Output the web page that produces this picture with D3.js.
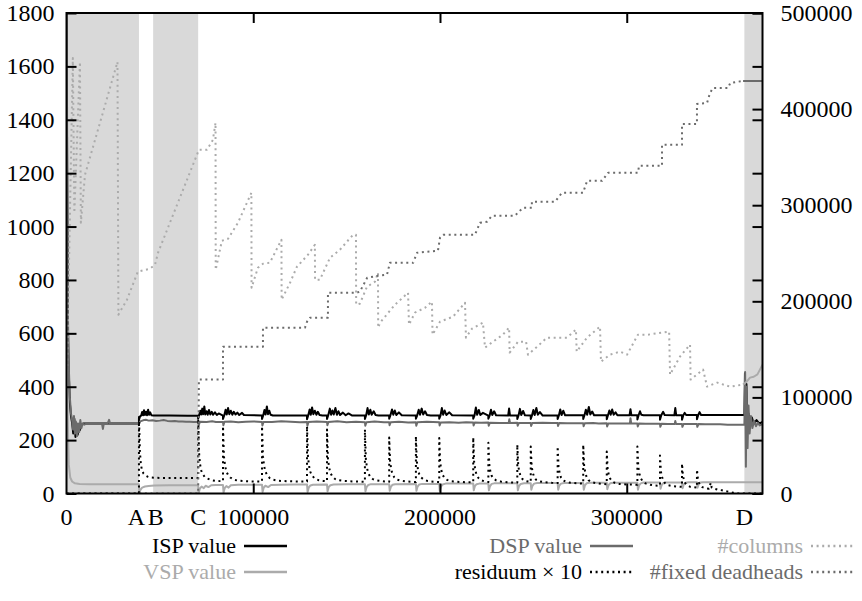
<!DOCTYPE html>
<html><head><meta charset="utf-8">
<script src="https://cdn.jsdelivr.net/npm/d3@7"></script>
</head><body style="margin:0">
<svg id="c" width="862" height="601"></svg>
<script>
// ---------- data ----------
const xMax = 372700;
const xTickValues = [0, 100000, 200000, 300000];
const letterLabels = ["A", "B", "C", "D"];
const letterValues = [38800, 46400, 70500, 363000];
const shadedSpans = [[0, 38800], [46400, 70500], [363000, 372700]];
const y1Ticks = [0, 200, 400, 600, 800, 1000, 1200, 1400, 1600, 1800];
const y2Ticks = [0, 100000, 200000, 300000, 400000, 500000];
const seriesNames = ["ISP value", "VSP value", "DSP value", "residuum × 10", "#columns", "#fixed deadheads"];

const isp = [[0,2400],[300,1300],[700,650],[1200,450],[1800,340],[2400,290],[3000,265],[3600,225],[4200,280],[4800,212],[5400,262],[6000,220],[6600,255],[7200,238],[8000,258],[9000,262],[20000,262],[38800,262],
[38800,275],[39300,288],[40000,292],[40500,305],[41000,293],[41500,312],[42000,294],[42600,306],[43100,293],[43700,314],[44200,295],[44800,304],[45500,293],[46500,292],[55000,292],[65000,291],[70500,291],
[70500,280],[71000,292],[71600,310],[72100,296],[72700,318],[73200,297],[73800,326],[74300,296],[75000,308],[75600,295],[76300,313],[77000,296],[77800,306],[78500,295],[79500,304],[80500,294],[81500,300],[83800,292],
[83800,279],[84500,293],[85200,314],[85800,296],[86500,320],[87200,297],[88000,310],[88800,295],[89600,306],[90500,296],[91500,303],[92500,294],[94000,302],[95000,294],[104700,292],
[104700,279],[105400,294],[106000,313],[106600,296],[107300,326],[107900,297],[108600,310],[109300,295],[110500,292],[128800,292],
[128800,278],[129500,294],[130200,315],[130800,295],[131500,322],[132200,297],[133000,310],[133800,295],[134600,306],[135500,294],[137000,292],[139500,292],
[139500,279],[140200,294],[141000,318],[141700,295],[142400,311],[143100,296],[144000,320],[144800,295],[145600,308],[146500,294],[148000,303],[149500,293],[151000,300],[153000,292],[159800,292],
[159800,279],[160500,294],[161200,320],[161900,296],[162700,314],[163400,295],[164500,308],[165500,294],[167000,292],[172800,292],
[172800,280],[173500,294],[174300,315],[175000,295],[175800,311],[176600,294],[178000,304],[179500,293],[187100,292],
[187100,280],[187800,293],[188600,314],[189300,295],[190200,318],[191000,296],[192000,308],[193000,294],[195000,292],[199600,292],
[199600,280],[200300,293],[201000,320],[201700,295],[202500,311],[203400,294],[205000,304],[206500,293],[217800,292],
[217800,280],[218500,293],[219200,322],[219900,295],[220800,313],[221600,294],[223000,302],[225900,292],
[225900,280],[226600,293],[227300,314],[228000,294],[229000,308],[230000,293],[236500,292],[237000,318],[237500,292],[241400,292],
[241400,279],[242100,293],[242800,317],[243500,294],[244500,309],[245500,293],[248600,292],
[248600,279],[249300,293],[250000,313],[250700,294],[251600,320],[252400,295],[253500,305],[255000,292],[263000,292],
[263000,279],[263700,293],[264400,315],[265100,294],[266000,310],[267000,293],[276700,293],
[276700,279],[277400,294],[278100,314],[278800,295],[279700,324],[280500,296],[281500,307],[282500,293],[289300,293],
[289300,278],[290000,294],[290700,311],[291400,295],[292200,315],[293000,295],[294000,304],[295000,293],[301500,293],[302000,316],[302500,293],[305700,293],
[305700,277],[306400,294],[307100,308],[307800,295],[309000,293],[317800,293],
[317800,276],[318500,293],[319500,306],[320300,294],[325500,293],[326000,320],[326500,293],[329600,293],
[329600,276],[330300,293],[331000,302],[331800,294],[337600,294],
[337600,278],[338300,294],[339000,305],[339800,294],[350000,294],[363000,294],[363300,450],[363700,265],[364100,410],[364600,240],[365200,300],[366000,262],[367000,285],[368000,262],[369500,275],[371000,262],[372700,268]];

const vsp = [[0,2600],[250,1000],[600,300],[1200,110],[2000,60],[3000,45],[4500,38],[7000,36],[12000,35],[20000,35],[30000,35],[38800,35],[39000,0],[39600,14],[40500,22],[42000,26],[44000,28],[47000,30],[55000,31],[65000,31],[70500,31],
[70800,2],[71400,18],[72300,26],[73500,20],[74500,29],[76000,24],[77500,31],[80000,32],[83800,32],[84100,4],[84700,20],[85600,28],[86800,22],[88000,31],[92000,33],[100000,33],[104700,33],[105000,6],[105600,22],[106500,29],[108000,24],[109500,32],[115000,33],[122000,34],[128800,34],[129100,6],[129700,22],[130600,30],[132000,33],[139500,34],[139800,8],[140400,24],[141300,31],[143000,34],[150000,35],[159800,35],[160100,8],[160700,24],[161600,32],[163000,35],[172800,35],[173100,10],[173700,25],[174600,33],[176000,35],[187100,36],[187400,10],[188000,26],[188900,34],[190500,36],[199600,36],[199900,10],[200500,26],[201400,34],[203000,37],[217800,37],[218100,12],[218700,28],[219600,35],[221000,37],[225900,37],[226200,12],[226800,28],[227700,36],[229000,38],[241400,38],[241700,12],[242300,28],[243200,36],[245000,38],[248600,38],[248900,14],[249500,29],[250400,37],[252000,39],[263000,39],[263300,14],[263900,30],[264800,37],[266500,39],[276700,39],[277000,14],[277600,30],[278500,38],[280000,40],[289300,40],[289600,16],[290200,31],[291100,38],[293000,40],[305700,40],[306000,14],[306600,30],[307500,38],[309000,41],[317800,41],[318100,18],[318700,32],[319600,39],[321000,41],[329600,41],[329900,20],[330500,33],[331400,40],[333000,42],[337600,42],[337900,22],[338500,34],[339400,41],[341000,42],[350000,42],[363000,42],[372700,42]];

const dsp = [[0,2600],[300,1400],[700,700],[1200,480],[1800,360],[2400,300],[3000,275],[3500,240],[4000,290],[4500,225],[5000,270],[5600,215],[6200,262],[6800,230],[7400,275],[8000,245],[8600,262],[9500,258],[11000,263],[14000,262],[17000,263],[19000,262],[19500,242],[20000,263],[22000,262],[22800,276],[23300,262],[27000,263],[31000,262],[35000,263],[38800,262],
[39500,270],[41000,274],[42500,276],[44000,273],[46000,274],[48000,272],[50000,273],[52000,275],[54000,272],[56000,271],[58000,272],[60000,270],[62000,270],[64000,269],[66000,269],[68000,268],[70500,268],[70800,256],[71500,269],
[75000,268],[78000,271],[80000,268],[83800,268],[84000,256],[84600,269],[88000,270],[92000,267],[96000,269],[100000,270],[104700,268],[104900,255],[105500,268],[110000,268],[115000,271],[120000,269],[125000,267],[128800,268],[129000,254],[129600,268],[134000,270],[139500,268],[139700,256],[140300,268],[145000,271],[150000,267],[155000,269],[159800,267],[160000,254],[160600,267],[165000,270],[170000,267],[172800,267],[173000,256],[173600,267],[178000,269],[183000,266],[187100,267],[187300,254],[187900,267],[193000,269],[199600,267],[199800,255],[200400,266],[205000,267],[210000,265],[214000,267],[217800,266],[218000,255],[218600,266],[222000,265],[225900,266],[226100,254],[226700,265],[232000,264],[236800,264],[237100,278],[237500,264],[241400,265],[241600,254],[242200,264],[245000,264],[248600,264],[248800,253],[249400,264],[255000,265],[260000,264],[263000,264],[263200,253],[263800,264],[268000,263],[272000,263],[276700,263],[276900,252],[277500,263],[282000,264],[285000,262],[289300,263],[289500,251],[290100,262],[294000,262],[298000,262],[301700,262],[302000,282],[302400,262],[305700,262],[305900,251],[306500,262],[310000,261],[314000,261],[317800,261],[318000,250],[318600,261],[322000,260],[325700,260],[326000,272],[326400,260],[329600,260],[329800,250],[330400,260],[334000,260],[337600,260],[337800,250],[338400,260],[342000,259],[346000,259],[350000,259],[354000,258],[358000,258],[362000,258],[363000,258],[363400,455],[363800,100],[364200,400],[364700,170],[365200,330],[365800,225],[366500,290],[367300,245],[368200,272],[369200,252],[370200,265],[371200,255],[372700,260]];

const residuum = [[0,0],[38800,0],[38800,292],[39300,160],[39800,110],[40400,88],[41200,75],[42200,68],[43500,63],[45000,60],[47000,59],[52000,58],[58000,58],[64000,58],[70500,58],
[70500,290],[71000,150],[71500,110],[72200,85],[73000,72],[74000,62],[75500,56],[77500,50],[80000,47],[83800,46],
[83800,252],[84300,140],[84900,105],[85600,82],[86500,70],[87700,60],[89500,52],[92000,48],[96000,46],[100000,45],[104700,45],
[104700,252],[105200,140],[105800,104],[106500,82],[107500,68],[108800,58],[110500,52],[113000,48],[118000,46],[124000,45],[128800,45],
[128800,252],[129300,138],[129900,102],[130600,80],[131600,66],[133000,56],[135000,50],[137500,47],[139500,46],
[139500,240],[140000,132],[140600,98],[141300,78],[142300,64],[143700,55],[145500,50],[148500,47],[154000,45],[159800,44],
[159800,240],[160300,130],[160900,96],[161600,76],[162600,63],[164000,54],[166000,49],[169000,46],[172800,44],
[172800,210],[173300,118],[173900,90],[174600,72],[175600,60],[177000,52],[179000,48],[182000,45],[187100,43],
[187100,214],[187600,120],[188200,90],[188900,72],[189900,60],[191300,52],[193300,47],[196500,44],[199600,43],
[199600,208],[200100,116],[200700,88],[201400,70],[202400,58],[203800,51],[205800,46],[209000,44],[214000,42],[217800,42],
[217800,210],[218300,116],[218900,88],[219600,70],[220600,58],[222000,50],[224000,45],[225900,43],
[225900,190],[226400,108],[227000,82],[227700,66],[228700,56],[230100,49],[232500,45],[236000,42],[241400,41],
[241400,183],[241900,104],[242500,80],[243200,64],[244200,54],[245600,47],[248600,43],
[248600,176],[249100,100],[249700,78],[250400,62],[251400,52],[253000,46],[256000,42],[260000,40],[263000,39],
[263000,176],[263500,100],[264100,76],[264800,60],[265800,50],[267400,44],[270000,40],[274000,38],[276700,37],
[276700,183],[277200,102],[277800,78],[278500,62],[279500,50],[281000,43],[283500,39],[287000,36],[289300,35],
[289300,157],[289800,90],[290400,70],[291100,56],[292100,46],[293600,40],[296000,36],[300000,34],[305700,33],
[305700,176],[306200,98],[306800,74],[307500,57],[308500,46],[310000,38],[312500,33],[315000,30],[317800,29],
[317800,142],[318300,82],[318900,62],[319600,48],[320600,38],[322200,31],[325000,27],[329600,25],
[329600,112],[330100,66],[330700,50],[331400,38],[332500,30],[334000,25],[337600,22],
[337600,90],[338100,55],[338700,40],[339400,30],[340500,24],[342000,20],[344000,18],[345000,40],[345500,22],[347000,18],[349000,14],[351000,12],[353000,9],[355000,6],[357000,3],[359000,0],[372700,0]];

const columns = [[0,97700],[3400,453200],[4200,292100],[7200,449100],[7700,281700],[9900,331600],[27300,449100],[27800,186100],[32400,201700],[38200,230800],[44700,233900],[47400,238000],[49000,250500],[70900,357600],[75200,357600],[78400,368000],[79800,385700],[79900,232800],[83200,263000],[86500,265100],[91800,281700],[96600,302500],[99000,312900],[99100,214100],[102500,234900],[105200,239100],[108900,240100],[114300,260900],[115100,264000],[115200,201700],[119700,219300],[123400,236000],[129300,248400],[133000,258800],[133100,222500],[135700,222500],[141100,245300],[146400,253600],[153400,269200],[155000,269200],[155100,196500],[157100,197500],[160900,215200],[165200,220400],[166800,229700],[166900,172600],[167900,177800],[175900,196500],[182900,208900],[183400,175700],[186600,188200],[192000,193300],[195700,199600],[196000,165300],[200000,178800],[207000,184000],[213400,198500],[213900,162200],[217100,171500],[223000,177800],[224100,151800],[228400,158000],[233700,165300],[237000,172600],[237300,146600],[241800,158000],[246100,158000],[247100,144500],[252000,152800],[257300,162200],[261600,162200],[268000,162200],[272800,170500],[273200,147600],[278700,162200],[285700,173600],[286200,137200],[291000,144500],[296400,147600],[300200,144500],[306000,165300],[311400,165300],[322700,168400],[323200,123700],[328500,142400],[333900,154900],[334200,118500],[340900,128900],[343000,111200],[348400,115400],[355300,111200],[362300,113300]];
const columnsTail = [[362300,113300],[364000,116000],[366000,120600],[368000,121500],[370000,124000],[372700,134100]];

const fixedDeadheads = [[0,0],[70500,0],[70900,118500],[83800,118500],[83800,152800],[105200,152800],[105200,172500],[127700,172500],[128800,178800],[130400,183000],[140000,183000],[140000,209000],[155500,209000],[157100,210000],[161000,224500],[166800,226600],[171600,227600],[173200,240100],[185600,240100],[187700,250500],[198900,252600],[200000,266100],[201700,269200],[218700,269200],[221400,281700],[225100,282700],[227800,289000],[240100,289000],[244400,297300],[249200,297300],[249200,303500],[261600,303500],[265300,312900],[276600,312900],[278800,325400],[286800,325400],[290000,333700],[306000,333700],[306600,341000],[318900,341000],[318900,362800],[329600,362800],[329600,384600],[337600,384600],[337600,405400],[343000,406400],[344600,416800],[346200,422000],[354300,422000],[355400,427200],[362300,429300]];
const fixedTail = [[362300,429300],[372700,429300]];

// ---------- layout ----------
const L = 66.5, R = 762.5, T = 13, B = 493.5;
const FONT = 24, LEGEND_FONT = 22;
const FAM = '"Liberation Serif"';
const C_BLACK = "#000", C_DARK = "#6b6b6b", C_LIGHT = "#ababab", C_SHADE = "#d9d9d9";
const DOTS = "2,3.6";

const svg = d3.select("#c");
const x = d3.scaleLinear().domain([0, xMax]).range([L, R]);
const y1 = d3.scaleLinear().domain([0, 1800]).range([B, T]);
const y2 = d3.scaleLinear().domain([0, 500000]).range([B, T]);
const fmt = d3.format("d");

svg.append("defs").append("clipPath").attr("id", "clip")
  .append("rect").attr("x", L).attr("y", T).attr("width", R - L).attr("height", B - T);

svg.append("g").selectAll("rect").data(shadedSpans).join("rect")
  .attr("x", d => x(d[0])).attr("width", d => x(d[1]) - x(d[0]))
  .attr("y", T).attr("height", B - T).attr("fill", C_SHADE);

const plot = svg.append("g").attr("clip-path", "url(#clip)");
function drawLine(data, ys, color, dotted) {
  plot.append("path").datum(data)
    .attr("d", d3.line().x(d => x(d[0])).y(d => ys(d[1])))
    .attr("fill", "none").attr("stroke", color).attr("stroke-width", 2)
    .attr("stroke-linejoin", "round")
    .attr("stroke-dasharray", dotted ? DOTS : null);
}
drawLine(isp, y1, C_BLACK, false);
drawLine(vsp, y1, C_LIGHT, false);
drawLine(dsp, y1, C_DARK, false);
drawLine(residuum, y1, C_BLACK, true);
drawLine(columns, y2, C_LIGHT, true);
drawLine(columnsTail, y2, C_LIGHT, false);
drawLine(fixedDeadheads, y2, C_DARK, true);
drawLine(fixedTail, y2, C_DARK, false);

function ticksOnly(sel) {
  sel.select(".domain").remove();
  sel.selectAll(".tick text").remove();
  sel.selectAll(".tick line").attr("stroke", "#000").attr("stroke-width", 2);
}
svg.append("g").attr("transform", `translate(0,${B})`)
  .call(d3.axisBottom(x).tickValues(xTickValues.filter(v => v > 0)).tickSize(-10)).call(ticksOnly);
svg.append("g").attr("transform", `translate(0,${T})`)
  .call(d3.axisTop(x).tickValues(xTickValues.filter(v => v > 0)).tickSize(-10)).call(ticksOnly);
svg.append("g").attr("transform", `translate(${L},0)`)
  .call(d3.axisLeft(y1).tickValues(y1Ticks).tickSize(-10)).call(ticksOnly);
svg.append("g").attr("transform", `translate(${R},0)`)
  .call(d3.axisRight(y1).tickValues(y1Ticks).tickSize(-10)).call(ticksOnly);
svg.append("g").attr("transform", `translate(${R},0)`)
  .call(d3.axisRight(y2).tickValues(y2Ticks).tickSize(-10)).call(ticksOnly);

svg.append("rect").attr("x", L).attr("y", T).attr("width", R - L).attr("height", B - T)
  .attr("fill", "none").attr("stroke", "#000").attr("stroke-width", 2);

function label(px, py, str, anchor, color, size) {
  svg.append("text").attr("x", px).attr("y", py).attr("text-anchor", anchor)
    .attr("font-size", size || FONT).attr("fill", color || "#000")
    .style("font-family", FAM).text(str);
}
xTickValues.forEach(v => label(x(v), B + 31, fmt(v), "middle"));
const letterNudge = [-2.5, 2.5, 0, 0];
letterValues.forEach((v, i) => label(x(v) + letterNudge[i], B + 31, letterLabels[i], "middle"));
y1Ticks.forEach(v => label(L - 12, y1(v) + 8, fmt(v), "end"));
y2Ticks.forEach(v => label(R + 18, y2(v) + 8, fmt(v), "start"));

const legendStyle = [
  {color: C_BLACK, dotted: false}, {color: C_LIGHT, dotted: false},
  {color: C_DARK, dotted: false}, {color: C_BLACK, dotted: true},
  {color: C_LIGHT, dotted: true}, {color: C_DARK, dotted: true}
];
const colTextEnd = [236, 582, 803];
const rowCenter = [546, 572];
const sampleLen = 43;
seriesNames.forEach((name, i) => {
  const col = Math.floor(i / 2), row = i % 2;
  const st = legendStyle[i];
  label(colTextEnd[col], rowCenter[row] + 7, name, "end", st.color, LEGEND_FONT);
  svg.append("line").attr("x1", colTextEnd[col] + 8).attr("x2", colTextEnd[col] + 8 + sampleLen)
    .attr("y1", rowCenter[row]).attr("y2", rowCenter[row])
    .attr("stroke", st.color).attr("stroke-width", 2.5)
    .attr("stroke-dasharray", st.dotted ? DOTS : null);
});
</script>
</body></html>
